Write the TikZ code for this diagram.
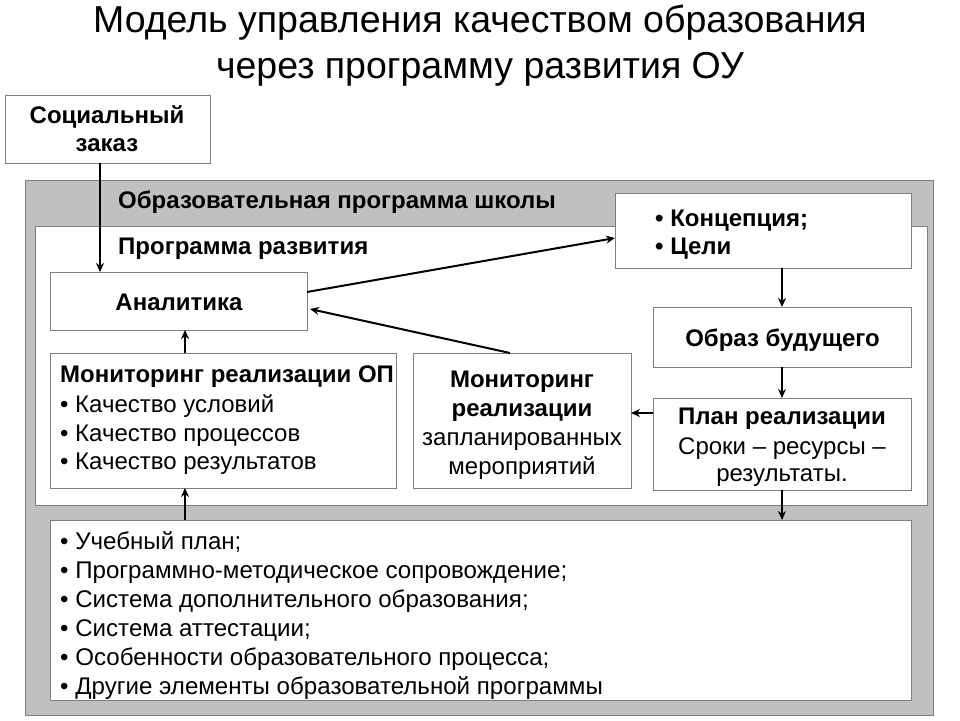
\documentclass[tikz,border=0pt]{standalone}
\usepackage{fontspec}
\setmainfont{Liberation Sans}
\usetikzlibrary{arrows.meta}
\definecolor{boxline}{HTML}{7F7F7F}
\definecolor{panel}{HTML}{C0C0C0}
\begin{document}
\begin{tikzpicture}[x=1pt,y=-1pt,
  box/.style={draw=boxline,line width=1pt,fill=white,anchor=north west,inner sep=0pt,align=center},
  fixh/.style={text height=17pt,text depth=0pt},
  bt/.style={fixh,font=\fontsize{24}{28}\selectfont\bfseries},
  rt/.style={fixh,font=\fontsize{24}{28}\selectfont},
  lt/.style={anchor=west,inner sep=0pt},
  it/.style={lt,fixh,font=\fontsize{24}{28}\selectfont},
  lst/.style={lt,fixh,font=\fontsize{24.1}{28}\selectfont},
  arr/.style={line width=2pt,-{Stealth[length=9pt,width=8pt]}},
  ]
\useasboundingbox (0,0) rectangle (960,720);
\fill[white] (0,0) rectangle (960,720);
% title
\node[font=\fontsize{37.5}{44}\selectfont] (t1) at (480,23) {Модель управления качеством образования};
\node[font=\fontsize{37.5}{44}\selectfont] (t2) at (480,69) {через программу развития ОУ};
% panels
\node[draw=boxline,line width=1pt,fill=panel,anchor=north west,minimum width=908pt,minimum height=535pt,inner sep=0pt] (outer) at (25,180) {};
\node[lt,bt] (outerlbl) at (118,200) {Образовательная программа школы};
\node[draw=boxline,line width=1pt,fill=white,anchor=north west,minimum width=892pt,minimum height=279pt,inner sep=0pt] (inner) at (35,226) {};
\node[lt,bt] (innerlbl) at (118,246) {Программа развития};
% boxes
\node[box,minimum width=205pt,minimum height=68pt] (soc) at (5,95) {};
\node[bt,anchor=center] (soc1) at (107,115) {Социальный};
\node[bt,anchor=center] (soc2) at (107,143) {заказ};
\node[box,minimum width=296pt,minimum height=75pt] (conc) at (615,193) {};
\node[lt,bt] (conc1) at (655,218) {• Концепция;};
\node[lt,bt] (conc2) at (655,246) {• Цели};
\node[box,minimum width=257pt,minimum height=58pt,bt] (anal) at (50,272) {Аналитика};
\node[box,minimum width=258pt,minimum height=60pt,bt] (obraz) at (653,307) {Образ будущего};
\node[box,minimum width=346pt,minimum height=135pt] (monop) at (50,353) {};
\node[lt,bt] (monop0) at (60,374) {Мониторинг реализации ОП};
\node[it] (monop1) at (60,404) {• Качество условий};
\node[it] (monop2) at (60,433) {• Качество процессов};
\node[it] (monop3) at (60,461) {• Качество результатов};
\node[box,minimum width=218pt,minimum height=135pt] (monr) at (413,353) {};
\node[bt,anchor=center] (monr1) at (522,379) {Мониторинг};
\node[bt,anchor=center] (monr2) at (522,408) {реализации};
\node[rt,anchor=center] (monr3) at (522,437) {запланированных};
\node[rt,anchor=center] (monr4) at (522,466) {мероприятий};
\node[box,minimum width=258pt,minimum height=92pt] (plan) at (653,398) {};
\node[bt,anchor=center] (plan1) at (782,416) {План реализации};
\node[rt,anchor=center] (plan2) at (782,446) {Сроки – ресурсы –};
\node[rt,anchor=center] (plan3) at (782,473) {результаты.};
\node[box,minimum width=861pt,minimum height=180pt] (bot) at (50,520) {};
\node[lst] (b1) at (60,541) {• Учебный план;};
\node[lst] (b2) at (60,570) {• Программно-методическое сопровождение;};
\node[lst] (b3) at (60,599) {• Система дополнительного образования;};
\node[lst] (b4) at (60,628) {• Система аттестации;};
\node[lst] (b5) at (60,657) {• Особенности образовательного процесса;};
\node[lst] (b6) at (60,686) {• Другие элементы образовательной программы};
% arrows
\coordinate (a1) at (100,163);
\coordinate (a2) at (100,272);
\draw[arr] (a1) -- (a2);
\coordinate (a3) at (307,292);
\coordinate (a4) at (615,238);
\draw[arr] (a3) -- (a4);
\coordinate (a5) at (510,353);
\coordinate (a6) at (310,309);
\draw[arr] (a5) -- (a6);
\coordinate (a7) at (185,353);
\coordinate (a8) at (185,330);
\draw[arr] (a7) -- (a8);
\coordinate (a9) at (782,268);
\coordinate (a10) at (782,307);
\draw[arr] (a9) -- (a10);
\coordinate (a11) at (782,367);
\coordinate (a12) at (782,398);
\draw[arr] (a11) -- (a12);
\coordinate (a13) at (653,413);
\coordinate (a14) at (631,413);
\draw[arr] (a13) -- (a14);
\coordinate (a15) at (782,490);
\coordinate (a16) at (782,520);
\draw[arr] (a15) -- (a16);
\coordinate (a17) at (185,520);
\coordinate (a18) at (185,488);
\draw[arr] (a17) -- (a18);
\end{tikzpicture}
\end{document}
